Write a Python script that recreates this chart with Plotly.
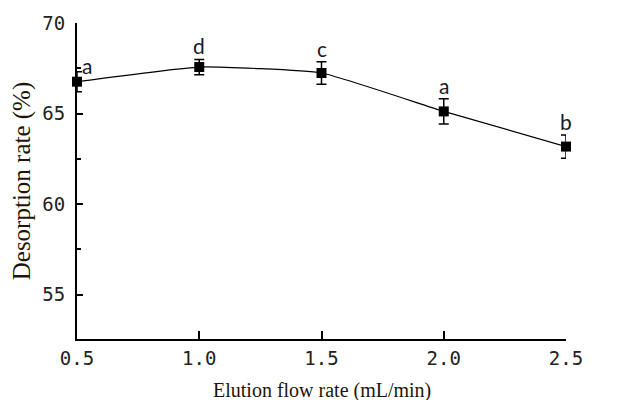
import plotly.graph_objects as go

flow_rate = [0.5, 1.0, 1.5, 2.0, 2.5]
desorption = [66.76, 67.57, 67.24, 65.12, 63.18]
error = [0.55, 0.42, 0.62, 0.70, 0.64]
letters = ["a", "d", "c", "a", "b"]
x_ticks = [0.5, 1.0, 1.5, 2.0, 2.5]
x_tick_labels = ["0.5", "1.0", "1.5", "2.0", "2.5"]
y_ticks = [55, 60, 65, 70]
y_tick_labels = ["55", "60", "65", "70"]
x_title = "Elution flow rate (mL/min)"
y_title = "Desorption rate (%)"

fig = go.Figure()
fig.add_trace(go.Scatter(
    x=flow_rate, y=desorption,
    mode="lines+markers",
    line=dict(color="black", width=1.2, shape="spline", smoothing=0.4),
    marker=dict(symbol="square", size=10, color="black"),
    error_y=dict(type="data", array=error, visible=True, color="black",
                 thickness=1.5, width=5),
    cliponaxis=False,
    showlegend=False,
))

for i, (x, y, e, t) in enumerate(zip(flow_rate, desorption, error, letters)):
    if i == 0:
        fig.add_annotation(x=x, y=y, text=t, showarrow=False,
                           xanchor="left", yanchor="bottom", xshift=3, yshift=2,
                           font=dict(family="Lato", size=21, color="#1a1a2a"))
    else:
        fig.add_annotation(x=x, y=y + e, text=t, showarrow=False,
                           xanchor="center", yanchor="bottom", yshift=-1,
                           font=dict(family="Lato", size=21, color="#1a1a2a"))

# x-axis title as an annotation below the axis
fig.add_annotation(x=0.5, y=0, xref="paper", yref="paper", text=x_title,
                   showarrow=False, xanchor="center", yanchor="middle", yshift=-51,
                   font=dict(family="Liberation Serif", size=20, color="#1e1608"))

# page body has an 8px offset; figure is sized to fit inside the window
fig.update_layout(
    width=616, height=392,
    margin=dict(l=69, r=58, t=15, b=61),
    paper_bgcolor="white", plot_bgcolor="white",
    xaxis=dict(
        range=[0.5, 2.5], tickmode="array", tickvals=x_ticks, ticktext=x_tick_labels,
        ticks="inside", ticklen=8, tickwidth=1.5, tickcolor="black",
        showline=True, linecolor="black", linewidth=2, showgrid=False, zeroline=False,
        automargin=False, ticklabelstandoff=1,
        tickfont=dict(family="DejaVu Sans Mono", size=19, color="#222"),
    ),
    yaxis=dict(
        range=[52.56, 70], tickmode="array", tickvals=y_ticks, ticktext=y_tick_labels,
        ticks="inside", ticklen=6, tickwidth=1.5, tickcolor="black",
        minor=dict(dtick=2.5, tick0=52.5, ticks="inside", ticklen=4, tickwidth=1.5, tickcolor="black"),
        showline=True, linecolor="black", linewidth=2, showgrid=False, zeroline=False,
        automargin=False, ticklabelstandoff=6,
        tickfont=dict(family="DejaVu Sans Mono", size=19, color="#222"),
        title=dict(text=y_title, standoff=8,
                   font=dict(family="Liberation Serif", size=25, color="#1e1608")),
    ),
)

fig.write_html("out.html")
